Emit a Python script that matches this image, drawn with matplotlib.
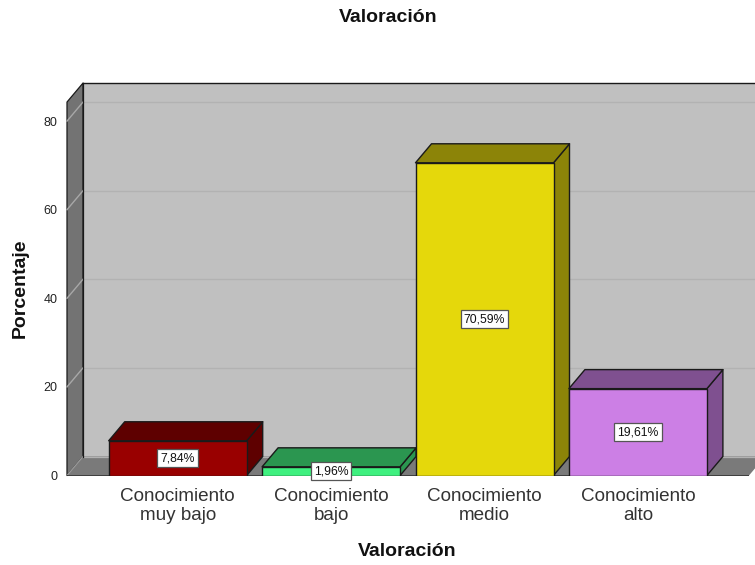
import matplotlib
matplotlib.use("Agg")
import matplotlib.pyplot as plt
from matplotlib.patches import Polygon

plt.rcParams['font.family'] = ['Liberation Sans', 'DejaVu Sans']

categories = ["Conocimiento\nmuy bajo", "Conocimiento\nbajo", "Conocimiento\nmedio", "Conocimiento\nalto"]
values = [7.84, 1.96, 70.59, 19.61]
value_labels = ["7,84%", "1,96%", "70,59%", "19,61%"]
front_colors = ["#990000", "#3FF07F", "#E5D80B", "#CC7FE5"]
top_colors = ["#5E0000", "#2B9650", "#8C8408", "#7F5090"]
y_ticks = [0, 20, 40, 60, 80]

W, H = 755, 565
fig = plt.figure(figsize=(W / 100, H / 100), dpi=100)

# axes frame in pixels
L, R, B, T = 67, 755, 475.5, 83
ax = fig.add_axes([L / W, 1 - B / H, (R - L) / W, (B - T) / H])
PX_CAT = 153.4
PX_VAL = 4.43
X0 = 177.7
ax.set_xlim((L - X0) / PX_CAT, (R - X0) / PX_CAT)
ax.set_ylim(0, (B - T) / PX_VAL)
for s in ax.spines.values():
    s.set_visible(False)
ax.patch.set_visible(False)

DX = 16 / PX_CAT
DY = 19 / PX_VAL
BAR_W = 138 / PX_CAT
xl = ax.get_xlim()[0]
xr = ax.get_xlim()[1]
WALL_TOP = 84.3
EDGE = "#1A1A1A"


def poly(pts, fc, z, ec=EDGE, lw=1.0, clip=True):
    p = Polygon(pts, closed=True, facecolor=fc, edgecolor=ec, linewidth=lw, zorder=z, joinstyle="round")
    ax.add_patch(p)
    p.set_clip_on(clip)


# walls and floor
poly([(xl + DX, DY), (xr + DX, DY), (xr + DX, WALL_TOP + DY), (xl + DX, WALL_TOP + DY)], "#C0C0C0", 1, ec="none", clip=False)
poly([(xl, 0), (xl + DX, DY), (xl + DX, WALL_TOP + DY), (xl, WALL_TOP)], "#737373", 1.5, lw=0.9, clip=False)
poly([(xl, 0), (xr - 6 / PX_CAT, 0), (xr + 10 / PX_CAT, DY), (xl + DX, DY)], "#7A7A7A", 1.6, ec="none")
ax.plot([xl, xr - 6 / PX_CAT], [0, 0], color=EDGE, lw=1.1, zorder=1.7, solid_capstyle="butt")
ax.plot([xl + DX, xr], [WALL_TOP + DY, WALL_TOP + DY], color=EDGE, lw=1.0, zorder=1.7, clip_on=False)
ax.plot([xl + DX, xl + DX], [DY, WALL_TOP + DY], color=EDGE, lw=0.9, zorder=1.7, clip_on=False)

# gridlines on back and left walls
for v in y_ticks[1:]:
    ax.plot([xl, xl + DX], [v, v + DY], color="#A8A8A8", lw=1.0, zorder=1.65, clip_on=False)
    ax.plot([xl + DX, xr], [v + DY, v + DY], color="#B2B2B2", lw=1.0, zorder=1.65, clip_on=False)
ax.plot([xl, xl + DX], [0, DY], color="#9A9A9A", lw=0.9, zorder=1.65)
ax.plot([xl + DX, xr], [DY, DY], color="#B2B2B2", lw=0.9, zorder=1.65)

# bars
for i, (v, fc, tc) in enumerate(zip(values, front_colors, top_colors)):
    x0 = i - BAR_W / 2
    x1 = i + BAR_W / 2
    z = 3 + i
    poly([(x1, 0), (x1 + DX, DY), (x1 + DX, v + DY), (x1, v)], tc, z)
    poly([(x0, v), (x0 + DX, v + DY), (x1 + DX, v + DY), (x1, v)], tc, z)
    ax.bar(i, v, width=BAR_W, color=fc, edgecolor=EDGE, linewidth=1.0, zorder=z + 0.1)

# value labels
for i, (v, lab) in enumerate(zip(values, value_labels)):
    ax.text(i, v / 2, lab, ha="center", va="center", fontsize=8.8, color="#111111", zorder=10,
            bbox=dict(boxstyle="square,pad=0.25", facecolor="white", edgecolor="#555555", linewidth=0.9))

ax.set_yticks(y_ticks)
ax.set_xticks(range(len(categories)))
ax.set_xticklabels(categories, fontsize=13.6, color="#333333", linespacing=1.12)
ax.tick_params(axis="x", length=0, pad=9)
ax.tick_params(axis="y", length=0, pad=7, labelsize=9, labelcolor="#222222")

fig.text(388 / W, 1 - 18 / H, "Valoración", ha="center", va="center", fontsize=14, fontweight="bold", color="#111111")
fig.text(407 / W, 1 - 552 / H, "Valoración", ha="center", va="center", fontsize=14, fontweight="bold", color="#111111")
fig.text(20 / W, 1 - 288 / H, "Porcentaje", ha="center", va="center", rotation=90, fontsize=14, fontweight="bold", color="#111111")

fig.savefig("out.png", dpi=100)
